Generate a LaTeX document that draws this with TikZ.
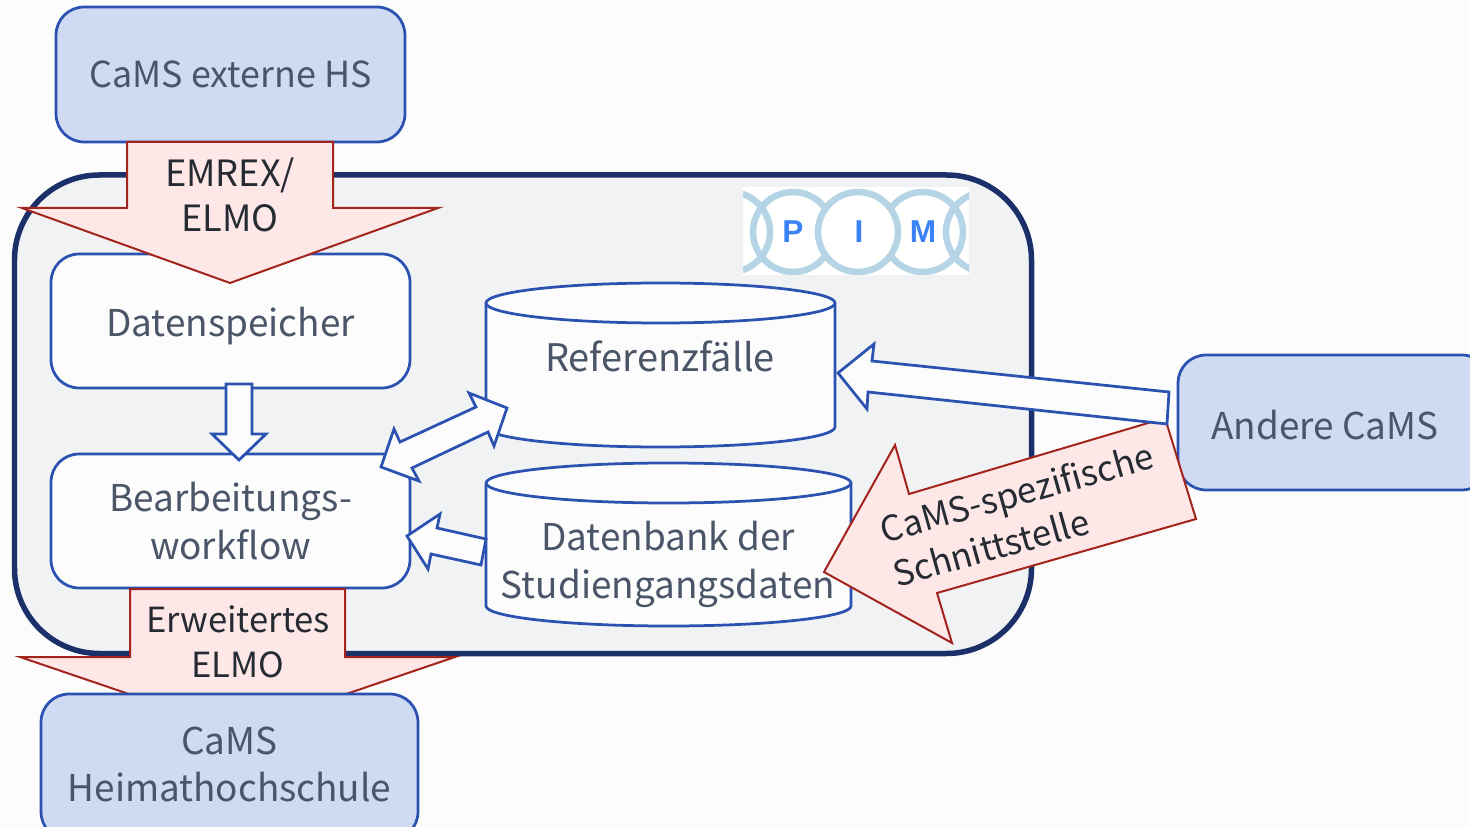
\documentclass[tikz,border=0pt]{standalone}
\usepackage{fontspec}
\setmainfont{Noto Sans CJK SC}
\newfontfamily\logofont{Liberation Sans}
\usepackage{tikz}

\definecolor{pagebg}{HTML}{FCFCFC}
\definecolor{panelfill}{HTML}{F1F2F4}
\definecolor{panelline}{HTML}{1B3068}
\definecolor{boxline}{HTML}{2B52B0}
\definecolor{camsfill}{HTML}{CFDAF3}
\definecolor{greytext}{HTML}{4A5568}
\definecolor{darktext}{HTML}{262B33}
\definecolor{redfill}{HTML}{FDE8E7}
\definecolor{redline}{HTML}{A3241C}
\definecolor{logoring}{HTML}{B5D5E6}
\definecolor{logoblue}{HTML}{3B82F6}

\begin{document}
\begin{tikzpicture}[
    x=0.02cm,
    y=-0.02cm,
    box/.style={draw=boxline,line width=0.055cm,rounded corners=0.56cm,inner sep=0,align=center,
        text=greytext,font=\fontsize{21}{27}\selectfont},
    whitebox/.style={box,fill=pagebg,minimum width=7.18cm,minimum height=2.68cm},
    camsbox/.style={box,fill=camsfill},
    storetext/.style={align=center,inner sep=0,text=greytext,font=\fontsize{21}{27.2}\selectfont},
    store/.style={draw=boxline,line width=0.055cm,fill=pagebg},
    redarrow/.style={draw=redline,line width=0.04cm,fill=redfill,miter limit=20},
    whitearrow/.style={draw=boxline,line width=0.055cm,fill=pagebg,miter limit=20},
    redtext/.style={align=center,inner sep=0,text=darktext,font=\fontsize{20}{25.4}\selectfont},
    logoletter/.style={inner sep=0,text=logoblue,font=\logofont\bfseries\fontsize{18}{18}\selectfont}
]
\clip (0,0) rectangle (1470,827);
\fill[pagebg] (0,0) rectangle (1470,827);

% Panel
\draw[draw=panelline,fill=panelfill,line width=0.11cm,rounded corners=1.7cm] (14.5,175) rectangle (1031.5,653.5);

% Logo
\begin{scope}
\clip (743,187) rectangle (969,275);
\fill[white] (743,187) rectangle (969,275);
\foreach \cx in {730,793,923,986}
    \draw[logoring,line width=0.13cm] (\cx,232) circle (0.8cm);
\draw[logoring,fill=white,line width=0.13cm] (858,232) circle (0.8cm);
\end{scope}
\node[logoletter] (logop) at (793,232) {P};
\node[logoletter] (logoi) at (859,232) {I};
\node[logoletter] (logom) at (923,232) {M};

% Boxes
\node[camsbox,minimum width=6.98cm,minimum height=2.7cm,font=\fontsize{20.4}{27}\selectfont] (extern) at (230.5,74.5) {CaMS externe HS};
\node[camsbox,minimum width=6.24cm,minimum height=2.7cm] (andere) at (1334,422.5) {};
\node[inner sep=0,text=greytext,font=\fontsize{21}{27}\selectfont] (anderetext) at (1325,425) {Andere CaMS};
\node[whitebox,text height=0.64cm,text depth=0pt] (speicher) at (230.5,321) {Datenspeicher};
\node[whitebox] (workflow) at (230.5,521) {Bearbeitungs-\\workflow};

% Data stores
\draw[store] (486,303) -- (486,427) arc[start angle=180,end angle=0,x radius=174.5,y radius=20] -- (835,303)
    arc[start angle=0,end angle=-180,x radius=174.5,y radius=20];
\draw[store] (486,303) arc[start angle=180,end angle=0,x radius=174.5,y radius=20];
\node[storetext,font=\fontsize{21.6}{27.2}\selectfont] (referenz) at (660,356) {Referenzfälle};
\draw[store] (486,483) -- (486,606) arc[start angle=180,end angle=0,x radius=182.5,y radius=20] -- (851,483)
    arc[start angle=0,end angle=-180,x radius=182.5,y radius=20];
\draw[store] (486,483) arc[start angle=180,end angle=0,x radius=182.5,y radius=20];
\node[storetext] (datenbank) at (668,564.5) {Datenbank der\\Studiengangsdaten};

% Red arrows
\draw[redarrow] (127,142) -- (333,142) -- (333,208) -- (438,208) -- (230,283) -- (22,208) -- (127,208) -- cycle;
\node[redtext,font=\fontsize{20.6}{25.4}\selectfont] (emrex) at (230,195) {EMREX/\\ELMO};
\draw[redarrow] (130,589) -- (345,589) -- (345,657) -- (455,657) -- (237.5,731) -- (20,657) -- (130,657) -- cycle;
\node[redtext,font=\fontsize{19.7}{25.4}\selectfont] (elmo) at (238,642) {Erweitertes\\ELMO};
\node[camsbox,minimum width=7.54cm,minimum height=2.92cm,text depth=0.1cm] (heimat) at (229.5,767) {CaMS\\Heimathochschule};
\draw[redarrow] (1165,418) -- (1196,519) -- (937,593) -- (952,643) -- (824,572) -- (895,445) -- (909,494) -- cycle;
\node[redtext,align=left,rotate=15.6,font=\fontsize{19.8}{26}\selectfont] (schnitt) at (1023,514) {CaMS-spezifische\\Schnittstelle};

% White arrows
\draw[whitearrow] (226,384) -- (252,384) -- (252,434) -- (266,434) -- (239,460) -- (212,434) -- (226,434) -- cycle;
\draw[whitearrow] (469,393) -- (507,408) -- (494,446) -- (488,432) -- (412,468) -- (419,481) -- (381,467)
    -- (394,429) -- (400,442) -- (476,407) -- cycle;
\draw[whitearrow] (407,536) -- (440,514) -- (437,528) -- (486,539) -- (481,565) -- (431,554) -- (428,569) -- cycle;
\draw[whitearrow] (838,373) -- (874,344) -- (872,361) -- (1169,392) -- (1167,424) -- (868,392) -- (867,409) -- cycle;

\end{tikzpicture}
\end{document}
